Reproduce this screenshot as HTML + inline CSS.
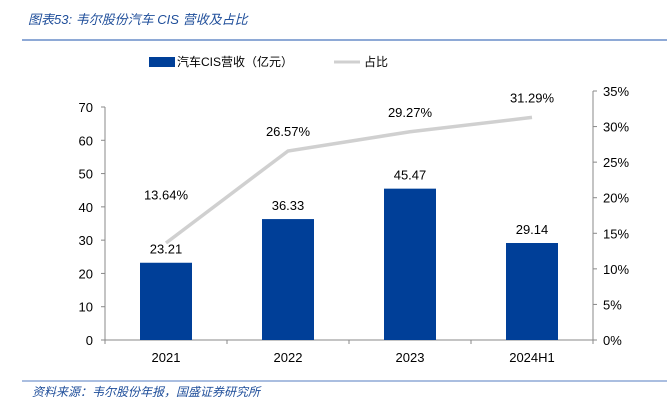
<!DOCTYPE html>
<html><head><meta charset="utf-8"><style>
body{margin:0;background:#fff;width:669px;height:401px;overflow:hidden}
svg text{font-family:"Liberation Sans","Noto Sans CJK SC",sans-serif}
</style></head><body>
<svg id="c" width="669" height="401" xmlns="http://www.w3.org/2000/svg">
<text x="28" y="24" font-size="13" font-style="italic" fill="#1f4e9a">图表53:  韦尔股份汽车 CIS 营收及占比</text>
<line x1="22" y1="40" x2="667" y2="40" stroke="#8ea9d6" stroke-width="2"/>
<rect x="149" y="57" width="26" height="10" fill="#003f98"/>
<text x="177" y="66" font-size="12" fill="#000">汽车CIS营收（亿元）</text>
<line x1="334" y1="62" x2="360" y2="62" stroke="#d0d0d0" stroke-width="3"/>
<text x="364" y="66" font-size="12" fill="#000">占比</text>
<g id="plot"></g>
<line x1="22" y1="381" x2="667" y2="381" stroke="#8ea9d6" stroke-width="1.5"/>
<text x="32" y="396" font-size="12" font-style="italic" fill="#1f4e9a">资料来源：韦尔股份年报，国盛证券研究所</text>
</svg>
<script>
const categories=["2021","2022","2023","2024H1"];
const revenue=[23.21,36.33,45.47,29.14];
const share=[13.64,26.57,29.27,31.29];
const leftTicks=[0,10,20,30,40,50,60,70];
const rightTicks=[0,5,10,15,20,25,30,35];
const X0=105,X1=593,Y0=340,Y1=107,YR1=91;
const ns="http://www.w3.org/2000/svg";
const g=document.getElementById('plot');
function yL(v){return Y0-(v/70)*(Y0-Y1);}
function yR(v){return Y0-(v/35)*(Y0-YR1);}
function xC(i){const w=(X1-X0)/categories.length;return X0+w*(i+0.5);}
function mk(t,a,txt){const e=document.createElementNS(ns,t);for(const k in a)e.setAttribute(k,a[k]);if(txt!==undefined)e.textContent=txt;g.appendChild(e);return e;}
let e;
e=mk('line',{x1:X0,y1:Y1,x2:X0,y2:Y0,stroke:'#888'});


e=mk('line',{x1:X1,y1:YR1,x2:X1,y2:Y0,stroke:'#888'});


e=mk('line',{x1:X0,y1:Y0,x2:X1,y2:Y0,stroke:'#888'});


leftTicks.forEach(v=>{
 mk('line',{x1:X0-4,y1:yL(v),x2:X0,y2:yL(v),stroke:'#888'});
 e=mk('text',{x:X0-12,y:yL(v)+5,'font-size':13,'text-anchor':'end'},String(v));
 
 
});
rightTicks.forEach(v=>{
 mk('line',{x1:X1,y1:yR(v),x2:X1+4,y2:yR(v),stroke:'#888'});
 e=mk('text',{x:X1+10,y:yR(v)+5,'font-size':13},v+'%');
 
 
});
for(let i=0;i<=categories.length;i++){const x=X0+(X1-X0)/categories.length*i;mk('line',{x1:x,y1:Y0,x2:x,y2:Y0+4,stroke:'#888'});}
categories.forEach((c,i)=>{
 e=mk('text',{x:xC(i),y:Y0+22,'font-size':13,'text-anchor':'middle'},c);
 
 
 e=mk('rect',{x:xC(i)-26,y:yL(revenue[i]),width:52,height:Y0-yL(revenue[i]),fill:'#003f98'});
 
 
 e=mk('text',{x:xC(i),y:yL(revenue[i])-9,'font-size':13,'text-anchor':'middle'},revenue[i].toFixed(2));
 
 
});
e=mk('polyline',{points:share.map((v,i)=>xC(i)+','+yR(v)).join(' '),fill:'none',stroke:'#d0d0d0','stroke-width':3.5});


share.forEach((v,i)=>{
 const ly=Math.min(yR(v)-15,yL(revenue[i])-63);
 e=mk('text',{x:xC(i),y:ly,'font-size':13,'text-anchor':'middle'},v.toFixed(2)+'%');
 
 
});
</script>
</body></html>
